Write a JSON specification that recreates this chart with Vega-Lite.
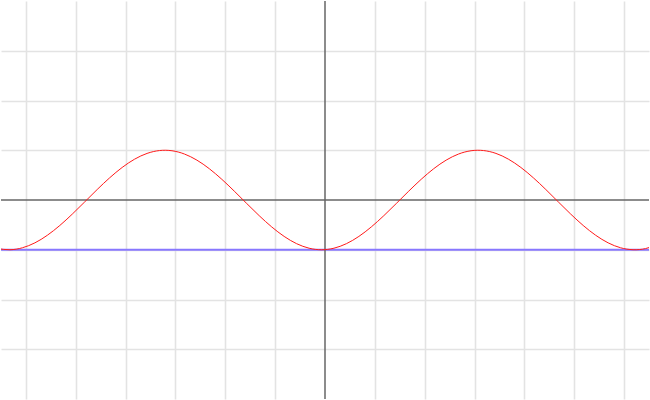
{
  "$schema": "https://vega.github.io/schema/vega-lite/v6.json",
  "width": 650,
  "height": 400,
  "autosize": {"type": "fit", "contains": "padding"},
  "padding": 0,
  "background": "white",
  "config": {"view": {"stroke": null}},
  "datasets": {
    "curve": [
      {"x": -6.57, "y": -0.9766}, {"x": -6.32, "y": -0.9994}, {"x": -6.07, "y": -0.9602}, {"x": -5.82, "y": -0.8612},
      {"x": -5.57, "y": -0.7087}, {"x": -5.32, "y": -0.5120}, {"x": -5.07, "y": -0.2837}, {"x": -4.82, "y": -0.0376},
      {"x": -4.57, "y": 0.2108}, {"x": -4.32, "y": 0.4461}, {"x": -4.07, "y": 0.6536}, {"x": -3.82, "y": 0.8206},
      {"x": -3.57, "y": 0.9365}, {"x": -3.32, "y": 0.9941}, {"x": -3.07, "y": 0.9900}, {"x": -2.82, "y": 0.9243},
      {"x": -2.57, "y": 0.8011}, {"x": -2.32, "y": 0.6282}, {"x": -2.07, "y": 0.4161}, {"x": -1.82, "y": 0.1782},
      {"x": -1.57, "y": -0.0707}, {"x": -1.32, "y": -0.3153}, {"x": -1.07, "y": -0.5403}, {"x": -0.82, "y": -0.7317},
      {"x": -0.57, "y": -0.8776}, {"x": -0.32, "y": -0.9689}, {"x": -0.07, "y": -1.0}, {"x": 0.18, "y": -0.9689},
      {"x": 0.43, "y": -0.8776}, {"x": 0.68, "y": -0.7317}, {"x": 0.93, "y": -0.5403}, {"x": 1.18, "y": -0.3153},
      {"x": 1.43, "y": -0.0707}, {"x": 1.68, "y": 0.1782}, {"x": 1.93, "y": 0.4161}, {"x": 2.18, "y": 0.6282},
      {"x": 2.43, "y": 0.8011}, {"x": 2.68, "y": 0.9243}, {"x": 2.93, "y": 0.9900}, {"x": 3.18, "y": 0.9941},
      {"x": 3.43, "y": 0.9365}, {"x": 3.68, "y": 0.8206}, {"x": 3.93, "y": 0.6536}, {"x": 4.18, "y": 0.4461},
      {"x": 4.43, "y": 0.2108}, {"x": 4.68, "y": -0.0376}, {"x": 4.93, "y": -0.2837}, {"x": 5.18, "y": -0.5120},
      {"x": 5.43, "y": -0.7087}, {"x": 5.68, "y": -0.8612}, {"x": 5.93, "y": -0.9602}, {"x": 6.18, "y": -0.9994},
      {"x": 6.43, "y": -0.9766}, {"x": 6.68, "y": -0.8930}
    ],
    "flat": [{"x": -6.5, "y": -1}, {"x": 6.5, "y": -1}],
    "xaxis": [{"y": 0}],
    "yaxis": [{"x": 0}]
  },
  "layer": [
    {
      "data": {"name": "flat"},
      "mark": {"type": "line", "color": "#8877ff", "strokeWidth": 1.8, "clip": true},
      "encoding": {
        "x": {
          "field": "x", "type": "quantitative",
          "scale": {"domain": [-6.5, 6.5], "nice": false, "zero": false},
          "axis": {"values": [-6,-5,-4,-3,-2,-1,1,2,3,4,5,6], "grid": true, "gridColor": "#e3e3e3", "gridWidth": 1.6, "labels": false, "ticks": false, "domain": false, "title": null}
        },
        "y": {
          "field": "y", "type": "quantitative",
          "scale": {"domain": [-4, 4], "nice": false, "zero": false},
          "axis": {"values": [-3,-2,-1,1,2,3], "grid": true, "gridColor": "#e3e3e3", "gridWidth": 1.6, "labels": false, "ticks": false, "domain": false, "title": null}
        }
      }
    },
    {
      "data": {"name": "xaxis"},
      "mark": {"type": "rule", "color": "#666666", "strokeWidth": 1.5},
      "encoding": {"y": {"field": "y", "type": "quantitative"}}
    },
    {
      "data": {"name": "yaxis"},
      "mark": {"type": "rule", "color": "#666666", "strokeWidth": 1.5},
      "encoding": {"x": {"field": "x", "type": "quantitative"}}
    },
    {
      "data": {"name": "curve"},
      "mark": {"type": "line", "color": "#ff1a1a", "strokeWidth": 1, "interpolate": "natural", "clip": true},
      "encoding": {
        "x": {"field": "x", "type": "quantitative"},
        "y": {"field": "y", "type": "quantitative"}
      }
    }
  ]
}
